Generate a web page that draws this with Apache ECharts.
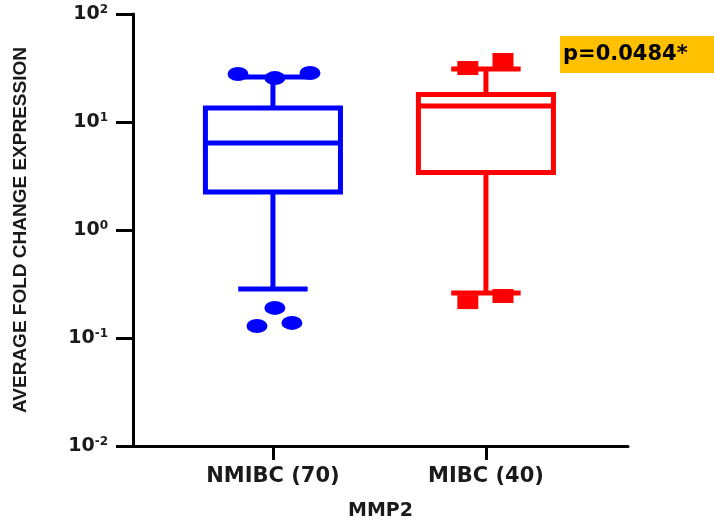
<!DOCTYPE html>
<html>
<head>
<meta charset="utf-8">
<script src="https://cdn.jsdelivr.net/npm/echarts@6/dist/echarts.min.js"></script>
<style>html,body{margin:0;padding:0;background:#fff}#c{width:714px;height:526px}</style>
</head>
<body>
<div id="c"></div>
<script>
// ---- data ----
const categories = ['NMIBC (70)', 'MIBC (40)'];
const groupColors = ['#0000FF', '#FF0000'];
const whiskerLow = [0.285, 0.261];
const q1Values = [2.25, 3.41];
const medianValues = [6.4, 14.1];
const q3Values = [13.5, 18.0];
const whiskerHigh = [26.1, 31.0];
// outliers: [category position (with horizontal jitter), value]
const nmibcOutliers = [[-0.164, 27.8], [0.009, 25.5], [0.174, 28.4], [0.009, 0.19], [-0.075, 0.129], [0.089, 0.138]];
const mibcOutliers = [[0.915, 31.6], [1.08, 37.5], [0.915, 0.215], [1.08, 0.245]];
const yTickValues = [0.01, 0.1, 1, 10, 100];
const pValueText = 'p=0.0484*';
const xAxisTitle = 'MMP2';
const yAxisTitle = 'AVERAGE FOLD CHANGE EXPRESSION';

const boxData = categories.map((c, i) => [i, whiskerLow[i], q1Values[i], medianValues[i], q3Values[i], whiskerHigh[i]]);

const chart = echarts.init(document.getElementById('c'), null, {renderer: 'canvas'});
const LW = 5;

function renderBox(params, api) {
  const x = api.value(0);
  const color = groupColors[params.dataIndex];
  const lo = api.coord([x, api.value(1)]);
  const q1 = api.coord([x, api.value(2)]);
  const med = api.coord([x, api.value(3)]);
  const q3 = api.coord([x, api.value(4)]);
  const hi = api.coord([x, api.value(5)]);
  const unit = api.coord([x + 1, api.value(3)])[0] - med[0];
  const cx = med[0];
  const hb = unit * 0.317;
  const hc = unit * 0.163;
  const st = {stroke: color, lineWidth: LW, fill: null};
  return {
    type: 'group',
    children: [
      {type: 'line', shape: {x1: cx, y1: q3[1], x2: cx, y2: hi[1]}, style: st},
      {type: 'line', shape: {x1: cx, y1: q1[1], x2: cx, y2: lo[1]}, style: st},
      {type: 'line', shape: {x1: cx - hc, y1: hi[1], x2: cx + hc, y2: hi[1]}, style: st},
      {type: 'line', shape: {x1: cx - hc, y1: lo[1], x2: cx + hc, y2: lo[1]}, style: st},
      {type: 'rect', shape: {x: cx - hb, y: q3[1], width: 2 * hb, height: q1[1] - q3[1]}, style: {stroke: color, lineWidth: LW, fill: '#fff'}},
      {type: 'line', shape: {x1: cx - hb, y1: med[1], x2: cx + hb, y2: med[1]}, style: st}
    ]
  };
}

const ellipse = 'path://M0,7A10,7 0 1,1 20,7A10,7 0 1,1 0,7Z';

chart.setOption({
  animation: false,
  backgroundColor: '#fff',
  grid: {left: 133, right: 86, top: 14, bottom: 77, containLabel: false},
  xAxis: {
    type: 'value',
    min: -0.657,
    max: 1.667,
    name: xAxisTitle,
    nameLocation: 'middle',
    nameGap: 56,
    nameTextStyle: {fontFamily: 'DejaVu Sans', fontWeight: 'bold', fontSize: 19, color: '#1a1a1a'},
    splitLine: {show: false},
    axisLine: {show: true, onZero: false, lineStyle: {color: '#000', width: 3}},
    axisTick: {show: true, customValues: [0, 1], length: 14, lineStyle: {color: '#000', width: 3}},
    axisLabel: {
      show: true, customValues: [0, 1], margin: 20,
      formatter: v => categories[Math.round(v)] || '',
      fontFamily: 'DejaVu Sans', fontWeight: 'bold', fontSize: 21, color: '#1a1a1a'
    }
  },
  yAxis: {
    type: 'log',
    logBase: 10,
    min: yTickValues[0],
    max: yTickValues[yTickValues.length - 1],
    name: yAxisTitle,
    nameLocation: 'middle',
    nameRotate: 90,
    nameGap: 103,
    nameTextStyle: {fontFamily: 'Liberation Sans', fontWeight: 'bold', fontSize: 19, color: '#1a1a1a'},
    splitLine: {show: false},
    axisLine: {show: true, onZero: false, lineStyle: {color: '#000', width: 3}},
    axisTick: {show: true, length: 17, lineStyle: {color: '#000', width: 3}},
    axisLabel: {
      margin: 25,
      formatter: v => '{b|10}{s|' + Math.round(Math.log10(v)) + '}',
      rich: {
        b: {fontFamily: 'DejaVu Sans', fontWeight: 'bold', fontSize: 19, color: '#1a1a1a', lineHeight: 20},
        s: {fontFamily: 'DejaVu Sans', fontWeight: 'bold', fontSize: 12, color: '#1a1a1a', verticalAlign: 'top', lineHeight: 20}
      }
    }
  },
  series: [
    {
      type: 'custom',
      renderItem: renderBox,
      encode: {x: 0, y: [1, 2, 3, 4, 5]},
      data: boxData,
      z: 2
    },
    {
      type: 'scatter',
      symbol: ellipse,
      symbolSize: [21, 14],
      itemStyle: {color: groupColors[0], opacity: 1},
      data: nmibcOutliers,
      z: 3
    },
    {
      type: 'scatter',
      symbol: 'rect',
      symbolSize: [21, 14],
      itemStyle: {color: groupColors[1], opacity: 1},
      data: mibcOutliers,
      z: 3
    }
  ],
  graphic: [
    {type: 'rect', left: 560, top: 36, shape: {width: 154, height: 37}, style: {fill: '#FFC000'}},
    {type: 'text', left: 563, top: 44, style: {text: pValueText, fontFamily: 'DejaVu Sans', fontWeight: 'bold', fontSize: 21, fill: '#000'}}
  ]
});
</script>
</body>
</html>
